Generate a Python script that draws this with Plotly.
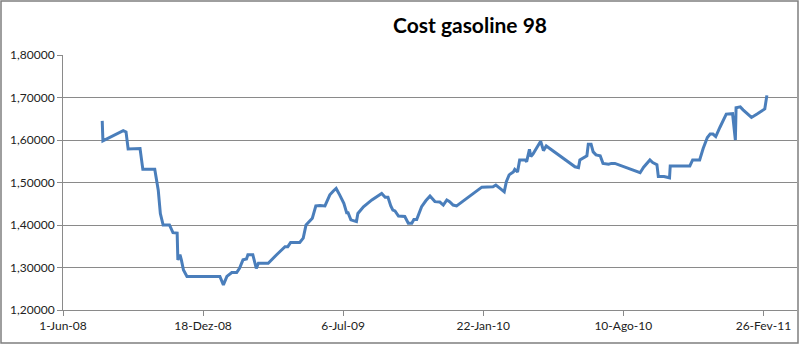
import plotly.graph_objects as go

title_text = "Cost gasoline 98"

dates = [
    "2008-07-27", "2008-07-28", "2008-08-26", "2008-08-30", "2008-09-02", "2008-09-19",
    "2008-09-23", "2008-10-10", "2008-10-15", "2008-10-18", "2008-10-22", "2008-10-31",
    "2008-11-05", "2008-11-11", "2008-11-12", "2008-11-15", "2008-11-17", "2008-11-20",
    "2008-11-25", "2009-01-11", "2009-01-16", "2009-01-21", "2009-01-28", "2009-02-04",
    "2009-02-08", "2009-02-13", "2009-02-18", "2009-02-20", "2009-02-27", "2009-03-02",
    "2009-03-04", "2009-03-07", "2009-03-21", "2009-04-02", "2009-04-14", "2009-04-18",
    "2009-04-22", "2009-05-05", "2009-05-10", "2009-05-14", "2009-05-18", "2009-05-23",
    "2009-05-28", "2009-06-03", "2009-06-10", "2009-06-17", "2009-06-22", "2009-06-26",
    "2009-07-01", "2009-07-07", "2009-07-11", "2009-07-13", "2009-07-17", "2009-07-25",
    "2009-07-27", "2009-08-04", "2009-08-16", "2009-08-30", "2009-09-04", "2009-09-08",
    "2009-09-12", "2009-09-15", "2009-09-18", "2009-09-23", "2009-10-02", "2009-10-07",
    "2009-10-12", "2009-10-15", "2009-10-19", "2009-10-26", "2009-11-01", "2009-11-07",
    "2009-11-14", "2009-11-21", "2009-11-26", "2009-12-01", "2009-12-05", "2009-12-10",
    "2009-12-15", "2010-01-20", "2010-02-05", "2010-02-09", "2010-02-15", "2010-02-21",
    "2010-02-24", "2010-02-28", "2010-03-06", "2010-03-08", "2010-03-12", "2010-03-15",
    "2010-03-23", "2010-03-25", "2010-03-29", "2010-03-31", "2010-04-03", "2010-04-09",
    "2010-04-14", "2010-04-18", "2010-04-22", "2010-06-02", "2010-06-07", "2010-06-09",
    "2010-06-16", "2010-06-19", "2010-06-21", "2010-06-25", "2010-06-28", "2010-07-02",
    "2010-07-08", "2010-07-12", "2010-07-20", "2010-07-24", "2010-07-29", "2010-09-03",
    "2010-09-08", "2010-09-12", "2010-09-17", "2010-09-21", "2010-09-27", "2010-09-29",
    "2010-10-07", "2010-10-15", "2010-10-16", "2010-11-13", "2010-11-17", "2010-11-27",
    "2010-12-02", "2010-12-08", "2010-12-12", "2010-12-16", "2010-12-20", "2010-12-26",
    "2011-01-04", "2011-01-13", "2011-01-17", "2011-01-18", "2011-01-24", "2011-01-28",
    "2011-01-31", "2011-02-09", "2011-02-17", "2011-02-24", "2011-02-28", "2011-03-03",
]

cost = [
    1.645, 1.598, 1.622, 1.619, 1.579, 1.580,
    1.531, 1.531, 1.482, 1.427, 1.400, 1.400,
    1.382, 1.381, 1.318, 1.330, 1.318, 1.294,
    1.279, 1.279, 1.259, 1.279, 1.288, 1.288,
    1.298, 1.318, 1.320, 1.330, 1.330, 1.314,
    1.298, 1.310, 1.310, 1.330, 1.349, 1.349,
    1.359, 1.359, 1.369, 1.400, 1.408, 1.416,
    1.445, 1.446, 1.445, 1.471, 1.480, 1.486,
    1.471, 1.451, 1.429, 1.429, 1.412, 1.408,
    1.427, 1.443, 1.459, 1.474, 1.465, 1.465,
    1.445, 1.435, 1.433, 1.421, 1.420, 1.404,
    1.404, 1.413, 1.413, 1.443, 1.457, 1.468,
    1.455, 1.454, 1.447, 1.459, 1.455, 1.447,
    1.445, 1.489, 1.490, 1.494, 1.486, 1.478,
    1.502, 1.518, 1.525, 1.531, 1.525, 1.553,
    1.553, 1.549, 1.578, 1.561, 1.567, 1.584,
    1.597, 1.575, 1.586, 1.537, 1.535, 1.553,
    1.561, 1.563, 1.590, 1.590, 1.572, 1.565,
    1.563, 1.545, 1.543, 1.545, 1.545, 1.523,
    1.536, 1.543, 1.553, 1.547, 1.542, 1.514,
    1.514, 1.511, 1.539, 1.539, 1.553, 1.553,
    1.580, 1.606, 1.614, 1.614, 1.608, 1.630,
    1.661, 1.662, 1.600, 1.676, 1.678, 1.671,
    1.666, 1.653, 1.661, 1.670, 1.673, 1.705,
]

x_tick_vals = ["2008-06-01", "2008-12-18", "2009-07-06", "2010-01-22", "2010-08-10", "2011-02-26"]
x_tick_text = ["1-Jun-08", "18-Dez-08", "6-Jul-09", "22-Jan-10", "10-Ago-10", "26-Fev-11"]
x_range = ["2008-06-01", "2011-04-15"]

y_tick_vals = [1.2, 1.3, 1.4, 1.5, 1.6, 1.7, 1.8]
y_tick_text = ["1,20000", "1,30000", "1,40000", "1,50000", "1,60000", "1,70000", "1,80000"]

W, H = 800, 352
ML, MR, MT, MB = 63, 3, 55, 42
pw, ph = W - ML - MR, H - MT - MB

def px_x(p):
    return (p - ML) / pw

def px_y(p):
    return (H - MB - p) / ph

fig = go.Figure()
fig.add_trace(go.Scatter(
    x=dates, y=cost, mode="lines",
    line=dict(color="#4A7EBB", width=3),
    showlegend=False,
))

grid_col = "#8A8A8A"
fig.update_layout(
    width=W, height=H,
    margin=dict(l=ML, r=MR, t=MT, b=MB),
    paper_bgcolor="white", plot_bgcolor="white",
    font=dict(family="Lato, 'Open Sans', sans-serif", size=12, color="#222222"),
    title=dict(
        text=title_text, x=470 / W, xanchor="center",
        y=1 - 26 / H, yanchor="middle",
        font=dict(family="Lato, sans-serif", size=21, color="black", weight="bold"),
    ),
    xaxis=dict(
        type="date", range=x_range,
        tickmode="array", tickvals=x_tick_vals, ticktext=x_tick_text,
        showgrid=False, zeroline=False,
        showline=True, linecolor=grid_col, linewidth=1,
        ticks="outside", ticklen=5, tickcolor=grid_col, tickwidth=1,
        tickfont=dict(size=12, color="#222222"),
    ),
    yaxis=dict(
        range=[1.2, 1.8],
        tickmode="array", tickvals=y_tick_vals, ticktext=y_tick_text,
        showgrid=True, gridcolor=grid_col, gridwidth=1, zeroline=False,
        showline=True, linecolor=grid_col, linewidth=1,
        ticks="outside", ticklen=5, tickcolor=grid_col, tickwidth=1,
        tickfont=dict(size=12, color="#222222"),
    ),
    shapes=[dict(
        type="rect", xref="paper", yref="paper",
        x0=px_x(1), x1=px_x(798), y0=px_y(343), y1=px_y(1),
        line=dict(color="#7F7F7F", width=1.5), fillcolor="rgba(0,0,0,0)",
        layer="above",
    )],
)

fig.write_html("out.html")
